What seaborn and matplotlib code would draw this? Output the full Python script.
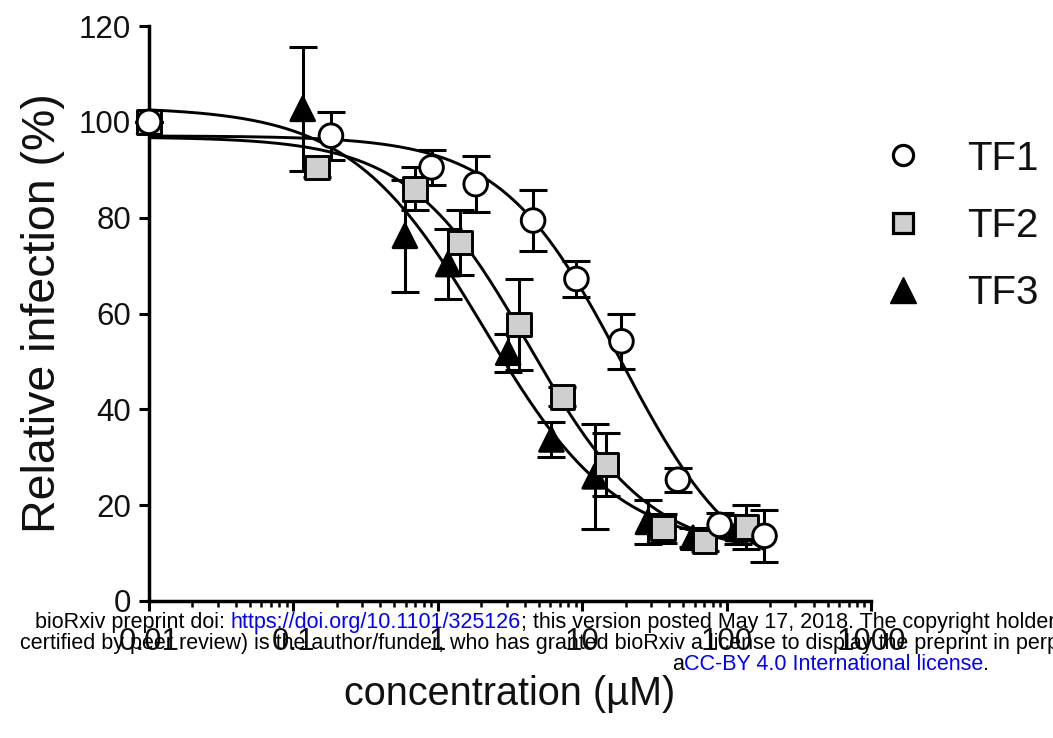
import numpy as np
import pandas as pd
import matplotlib
matplotlib.use("Agg")
import matplotlib.pyplot as plt
from matplotlib.lines import Line2D
from matplotlib.ticker import LogLocator, FixedLocator, NullFormatter
import seaborn as sns

# ---------------- data ----------------
compounds = ["TF1", "TF2", "TF3"]

tf1_conc = [0.01, 0.182, 0.905, 1.83, 4.57, 9.12, 18.7, 46.0, 89.5, 183.0]
tf1_inf = [100.0, 97.1, 90.5, 87.0, 79.4, 67.2, 54.2, 25.3, 15.9, 13.6]
tf1_sem = [0.0, 5.0, 3.7, 5.9, 6.3, 3.7, 5.7, 2.5, 2.5, 5.4]

tf2_conc = [0.01, 0.146, 0.694, 1.42, 3.66, 7.30, 14.7, 36.2, 70.5, 137.0]
tf2_inf = [100.0, 90.5, 86.0, 74.8, 57.7, 42.6, 28.5, 15.2, 12.4, 15.5]
tf2_sem = [0.0, 2.0, 4.5, 6.8, 9.5, 2.0, 6.6, 3.0, 2.0, 4.6]

tf3_conc = [0.01, 0.116, 0.592, 1.18, 3.07, 6.12, 12.2, 28.5, 58.5, 120.0]
tf3_inf = [100.0, 102.7, 76.2, 70.3, 51.8, 33.7, 26.0, 16.5, 13.2, 15.0]
tf3_sem = [0.0, 13.0, 11.7, 7.3, 4.0, 3.6, 11.0, 4.5, 2.0, 3.0]

y_ticks = [0, 20, 40, 60, 80, 100, 120]
x_ticks = [0.01, 0.1, 1, 10, 100, 1000]
x_tick_labels = ["0.01", "0.1", "1", "10", "100", "1000"]

face_colors = {"TF1": "white", "TF2": "#cfcfcf", "TF3": "black"}
marker_shapes = {"TF1": "o", "TF2": "s", "TF3": "^"}

frames = []
for name, c, y, e in [("TF1", tf1_conc, tf1_inf, tf1_sem),
                      ("TF2", tf2_conc, tf2_inf, tf2_sem),
                      ("TF3", tf3_conc, tf3_inf, tf3_sem)]:
    frames.append(pd.DataFrame({"compound": name, "conc": c, "inf": y, "sem": e}))
df = pd.concat(frames, ignore_index=True)


# ---------------- 4-parameter logistic fit (Levenberg-Marquardt) ----------------
def model(p, x):
    bottom, top, logc, h = p
    return bottom + (top - bottom) / (1.0 + 10 ** ((np.log10(x) - logc) * h))


def fit4pl(x, y):
    x = np.asarray(x, float)
    y = np.asarray(y, float)
    mid = (y.max() + y.min()) / 2
    idx = np.argmin(np.abs(y - mid))
    p = np.array([y.min(), y.max(), np.log10(x[idx]), 1.0])
    lam = 1e-2
    for _ in range(500):
        r = y - model(p, x)
        J = np.zeros((len(x), 4))
        for k in range(4):
            dp = np.zeros(4)
            dp[k] = 1e-6 * max(1.0, abs(p[k]))
            J[:, k] = (model(p + dp, x) - model(p - dp, x)) / (2 * dp[k])
        A = J.T @ J
        g = J.T @ r
        step = np.linalg.solve(A + lam * np.diag(np.diag(A) + 1e-9), g)
        pn = p + step
        if np.sum((y - model(pn, x)) ** 2) < np.sum(r ** 2):
            p = pn
            lam = max(lam / 3, 1e-9)
        else:
            lam *= 4
    return p


curves = []
for name, g in df.groupby("compound"):
    p = fit4pl(g["conc"].values, g["inf"].values)
    xs = np.logspace(np.log10(g["conc"].min()), np.log10(g["conc"].max()), 400)
    curves.append(pd.DataFrame({"compound": name, "conc": xs, "fit": model(p, xs)}))
curve_df = pd.concat(curves, ignore_index=True)

# ---------------- figure ----------------
sns.set_theme(style="ticks")
plt.rcParams["font.family"] = ["Liberation Sans", "DejaVu Sans"]

fig = plt.figure(figsize=(10.53, 7.38), dpi=100)
ax = fig.add_axes([149 / 1053, 1 - 601 / 738, (871 - 149) / 1053, (601 - 26) / 738])

ink = "#111111"

# error bars (behind markers)
for name, g in df.groupby("compound"):
    ax.errorbar(g["conc"], g["inf"], yerr=g["sem"], fmt="none", ecolor="black",
                elinewidth=2.2, capsize=10, capthick=2.2, zorder=1.5, clip_on=False)

# fitted curves
sns.lineplot(data=curve_df, x="conc", y="fit", units="compound", estimator=None,
             color="black", linewidth=2.1, ax=ax, zorder=2, legend=False)

# markers (TF3 drawn first, TF1 on top, as in the reference)
scatter_df = pd.concat([df[df["compound"] == c] for c in ["TF3", "TF2", "TF1"]])
sns.scatterplot(data=scatter_df, x="conc", y="inf", hue="compound", style="compound",
                palette=face_colors, markers=marker_shapes, s=17 ** 2,
                edgecolor="black", linewidth=2.1, ax=ax, zorder=3,
                clip_on=False, legend=False)

ax.set_xscale("log")
ax.set_xlim(0.01, 1000)
ax.set_ylim(0, 120)
ax.xaxis.set_major_locator(FixedLocator(x_ticks))
ax.set_xticklabels(x_tick_labels)
ax.xaxis.set_minor_locator(LogLocator(base=10, subs=np.arange(2, 10), numticks=20))
ax.xaxis.set_minor_formatter(NullFormatter())
ax.set_yticks(y_ticks)

for s in ["top", "right"]:
    ax.spines[s].set_visible(False)
for s in ["left", "bottom"]:
    ax.spines[s].set_linewidth(2.5)
    ax.spines[s].set_color("black")

ax.tick_params(axis="both", which="major", length=7, width=2.2, color="black",
               labelsize=22.5, labelcolor=ink, direction="out")
ax.tick_params(axis="x", which="major", pad=12)
ax.tick_params(axis="y", which="major", pad=6)
ax.tick_params(axis="x", which="minor", length=4.5, width=1.8, color="black")

ax.set_xlabel("concentration (µM)", fontsize=28.5, labelpad=13, color=ink)
ax.set_ylabel("Relative infection (%)", fontsize=33.5, labelpad=10, color=ink)

# legend
handles = [
    Line2D([], [], linestyle="none", marker="o", markersize=14.5, markerfacecolor="white",
           markeredgecolor="black", markeredgewidth=2.3),
    Line2D([], [], linestyle="none", marker="s", markersize=14.5, markerfacecolor="#cfcfcf",
           markeredgecolor="black", markeredgewidth=2.3),
    Line2D([], [], linestyle="none", marker="^", markersize=18.5, markerfacecolor="black",
           markeredgecolor="black", markeredgewidth=1.0),
]
leg = fig.legend(handles, compounds, loc="center left",
                 bbox_to_anchor=(883 / 1053, 1 - 226 / 738), frameon=False,
                 fontsize=29, handlelength=1.0, handletextpad=1.1,
                 labelspacing=0.73, borderpad=0.0, borderaxespad=0.0)
for t in leg.get_texts():
    t.set_color(ink)

# watermark text (bioRxiv)
fig.canvas.draw()
renderer = fig.canvas.get_renderer()
wm_size = 15.5
blue = "#0000ff"


def segments(parts, x_px, y_px):
    x = x_px
    for txt, col in parts:
        t = fig.text(x / 1053, 1 - y_px / 738, txt, color=col, fontsize=wm_size,
                     ha="left", va="baseline")
        x += t.get_window_extent(renderer=renderer).width


segments([("bioRxiv preprint doi: ", "black"),
          ("https://doi.org/10.1101/325126", blue),
          ("; this version posted May 17, 2018. The copyright holder for this preprint (which was not", "black")],
         35, 628)
segments([("certified by peer review) is the author/funder, who has granted bioRxiv a license to display the preprint in perpetuity. It is made available under", "black")],
         20, 649)
segments([("a", "black"), ("CC-BY 4.0 International license", blue), (".", "black")],
         672, 670)

fig.savefig("out.png", dpi=100)
